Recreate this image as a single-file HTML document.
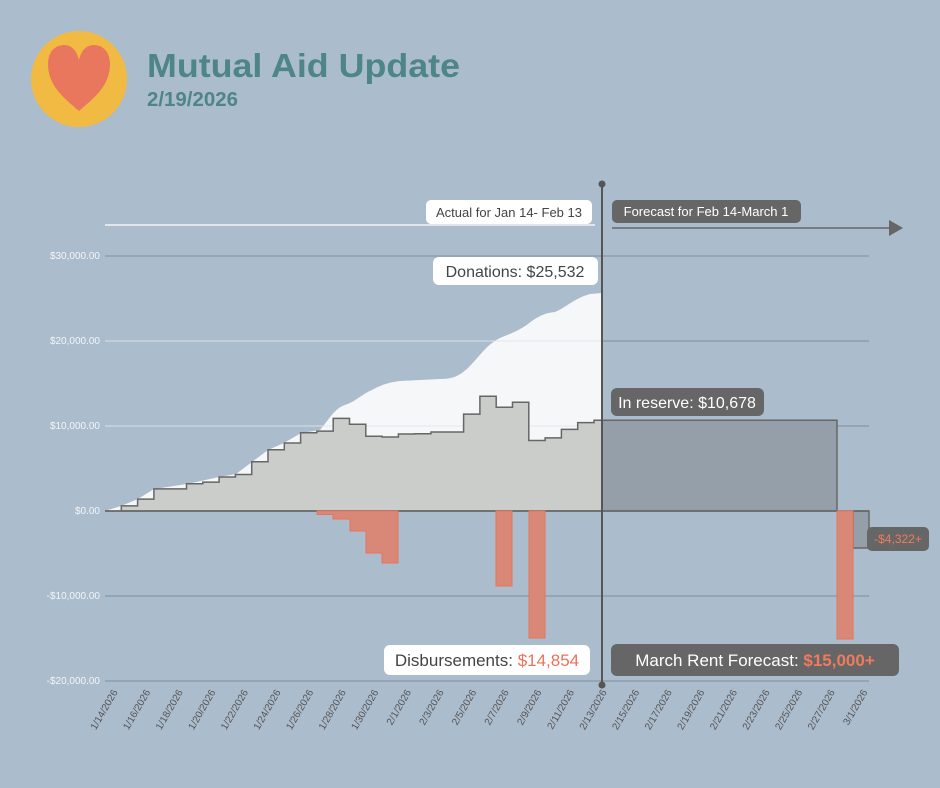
<!DOCTYPE html>
<html><head><meta charset="utf-8"><style>
html,body{margin:0;padding:0;background:#abbccc;}
svg{display:block;font-family:"Liberation Sans",sans-serif;}
</style></head><body>
<svg width="940" height="788" viewBox="0 0 940 788" xmlns="http://www.w3.org/2000/svg">
<rect width="940" height="788" fill="#abbccc"/>
<circle cx="79" cy="79" r="48" fill="#f1bb43"/>
<path d="M79 111 C64 98 48 86 48 64 C48 52 55 45 64 45 C72 45 77 51 79 60 C81 51 86 45 94 45 C103 45 110 52 110 64 C110 86 94 98 79 111Z" fill="#e9775e"/>
<text x="147" y="77" font-size="33" font-weight="bold" fill="#4e8587" textLength="313" lengthAdjust="spacingAndGlyphs">Mutual Aid Update</text>
<text x="147" y="106" font-size="20" font-weight="bold" fill="#4e8587" textLength="91" lengthAdjust="spacingAndGlyphs">2/19/2026</text>

<g stroke="#8797a8" stroke-width="1.2">
<line x1="105" y1="256" x2="869" y2="256"/><line x1="105" y1="341" x2="869" y2="341"/>
<line x1="105" y1="426" x2="869" y2="426"/><line x1="105" y1="596" x2="869" y2="596"/>
<line x1="105" y1="681" x2="869" y2="681"/>
</g>
<g font-size="10" fill="#f4f6f8" text-anchor="end">
<text x="100" y="259">$30,000.00</text><text x="100" y="344">$20,000.00</text>
<text x="100" y="429">$10,000.00</text><text x="100" y="514">$0.00</text>
<text x="100" y="599">-$10,000.00</text><text x="100" y="684">-$20,000.00</text>
</g>

<path d="M105 511 L121 506 L138 499 L154 489 L187 484 L219 477 L236 474 L252 462 L268 450 L284 443 L301 433 L320 430 C330 418 335 408 345 405 C355 402 362 394 372 390 C382 384 392 382 400 381 L440 379 C452 379 458 377 468 368 C480 356 486 345 500 338 C512 333 518 331 528 324 C538 316 545 313 555 312 C565 308 575 298 590 294 L602 293 L602 511Z" fill="#f6f7f9"/>
<line x1="105" y1="426" x2="602" y2="426" stroke="#e4e8ec" stroke-width="1"/>
<line x1="105" y1="341" x2="602" y2="341" stroke="#e4e8ec" stroke-width="1"/>

<path d="M105 511 H121.3 V505.9 H137.6 V499.1 H153.9 V488.9 H186.5 V483.8 H202.8 V482.1 H219.1 V477 H235.4 V474.5 H251.7 V461.7 H268 V449.8 H284.3 V443 H300.6 V432.8 H316.9 V431.1 H333.2 V418.4 H349.5 V424.3 H365.8 V436.2 H382.1 V437 H398.4 V434 H414.7 V433.7 H431 V432 H463.6 V414.1 H479.9 V396.3 H496.2 V407.3 H512.5 V402.2 H528.8 V440.5 H545.1 V437.9 H561.4 V429.4 H577.7 V422.6 H594 V420.2 H602 V511Z" fill="#cbcdcb" stroke="#666" stroke-width="1.5"/>
<path d="M602 420.2 H837 V511 H602Z" fill="#949fa9" stroke="#666" stroke-width="1.5"/>
<path d="M853 511 H869 V548 H853Z" fill="#949fa9" stroke="#666" stroke-width="1.5"/>
<line x1="105" y1="511" x2="869" y2="511" stroke="#666" stroke-width="1.5"/>

<g fill="#d98878" stroke="#e8735a" stroke-width="1">
<path d="M317 511 V514.5 H333 V519 H350 V531 H366 V553 H382 V563 H398 V511Z"/>
<rect x="496" y="511" width="16" height="75"/>
<rect x="529" y="511" width="16" height="127"/>
<rect x="837" y="511" width="16" height="128"/>
</g>

<line x1="105" y1="225" x2="595" y2="225" stroke="#fff" stroke-width="1.2"/>
<line x1="612" y1="228" x2="890" y2="228" stroke="#666" stroke-width="1.5"/>
<path d="M889 220 L903 228 L889 236Z" fill="#666"/>
<line x1="602" y1="184" x2="602" y2="685" stroke="#555" stroke-width="2"/>
<circle cx="602" cy="184" r="3.5" fill="#555"/><circle cx="602" cy="685" r="3.5" fill="#555"/>

<rect x="426" y="200" width="166" height="24" rx="5" fill="#fff"/>
<text x="509" y="217" font-size="13" fill="#444" text-anchor="middle">Actual for Jan 14- Feb 13</text>
<rect x="612" y="200" width="189" height="23" rx="5" fill="#666"/>
<text x="706" y="216" font-size="13" fill="#fff" text-anchor="middle">Forecast for Feb 14-March 1</text>
<rect x="433" y="257" width="165" height="28" rx="6" fill="#fff"/>
<text x="515" y="277" font-size="16" fill="#444" text-anchor="middle">Donations: $25,532</text>
<rect x="611" y="388" width="153" height="28" rx="6" fill="#666"/>
<text x="687" y="408" font-size="16" fill="#fff" text-anchor="middle">In reserve: $10,678</text>
<rect x="384" y="645" width="206" height="30" rx="6" fill="#fff"/>
<text x="487" y="666" font-size="17" fill="#444" text-anchor="middle">Disbursements: <tspan fill="#e8735a">$14,854</tspan></text>
<rect x="611" y="644" width="288" height="32" rx="6" fill="#666"/>
<text x="755" y="666" font-size="17" fill="#fff" text-anchor="middle">March Rent Forecast: <tspan fill="#ef7b5e" font-weight="bold">$15,000+</tspan></text>
<rect x="867" y="527" width="62" height="24" rx="5" fill="#666"/>
<text x="898" y="543" font-size="12" fill="#ef7b5e" text-anchor="middle">-$4,322+</text>

<g font-size="10" fill="#555" text-anchor="end">
<text transform="translate(118,692) rotate(-60)">1/14/2026</text>
<text transform="translate(150.6,692) rotate(-60)">1/16/2026</text>
<text transform="translate(183.2,692) rotate(-60)">1/18/2026</text>
<text transform="translate(215.8,692) rotate(-60)">1/20/2026</text>
<text transform="translate(248.4,692) rotate(-60)">1/22/2026</text>
<text transform="translate(281,692) rotate(-60)">1/24/2026</text>
<text transform="translate(313.6,692) rotate(-60)">1/26/2026</text>
<text transform="translate(346.2,692) rotate(-60)">1/28/2026</text>
<text transform="translate(378.8,692) rotate(-60)">1/30/2026</text>
<text transform="translate(411.4,692) rotate(-60)">2/1/2026</text>
<text transform="translate(444,692) rotate(-60)">2/3/2026</text>
<text transform="translate(476.6,692) rotate(-60)">2/5/2026</text>
<text transform="translate(509.2,692) rotate(-60)">2/7/2026</text>
<text transform="translate(541.8,692) rotate(-60)">2/9/2026</text>
<text transform="translate(574.4,692) rotate(-60)">2/11/2026</text>
<text transform="translate(607,692) rotate(-60)">2/13/2026</text>
<text transform="translate(639.6,692) rotate(-60)">2/15/2026</text>
<text transform="translate(672.2,692) rotate(-60)">2/17/2026</text>
<text transform="translate(704.8,692) rotate(-60)">2/19/2026</text>
<text transform="translate(737.4,692) rotate(-60)">2/21/2026</text>
<text transform="translate(770,692) rotate(-60)">2/23/2026</text>
<text transform="translate(802.6,692) rotate(-60)">2/25/2026</text>
<text transform="translate(835.2,692) rotate(-60)">2/27/2026</text>
<text transform="translate(867.8,692) rotate(-60)">3/1/2026</text>
</g>
</svg>
</body></html>
